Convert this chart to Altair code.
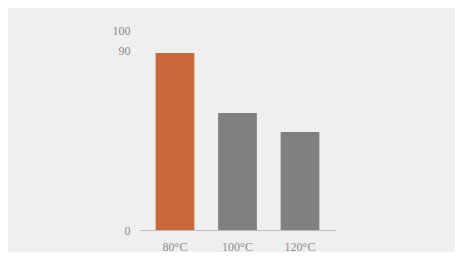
import altair as alt
import pandas as pd

categories = ["80°C", "100°C", "120°C"]
values = [88.5, 58.5, 49]
colors = ["#c9693a", "#808080", "#808080"]
y_ticks = [0, 90, 100]

df = pd.DataFrame({"cat": categories, "val": values, "color": colors})

chart = alt.Chart(df).mark_bar().encode(
    x=alt.X("cat:N", sort=categories, title=None,
            scale=alt.Scale(paddingInner=0.38, paddingOuter=0.25),
            axis=alt.Axis(labelAngle=0, ticks=False, domainColor="#bbbbbb",
                          labelColor="#8c8c8c", labelFontSize=12, labelPadding=11,
                          labelFont="Liberation Serif")),
    y=alt.Y("val:Q", title=None, scale=alt.Scale(domain=[0, 100], nice=False),
            axis=alt.Axis(values=y_ticks, grid=False, domain=False, ticks=False,
                          labelColor="#8c8c8c", labelFontSize=12, labelPadding=10,
                          labelFont="Liberation Serif")),
    color=alt.Color("color:N", scale=None),
).properties(
    width=195, height=200,
    autosize=alt.AutoSizeParams(type="none"),
    padding={"left": 132, "right": 120, "top": 22, "bottom": 22},
    background="#efefef",
).configure_view(stroke=None)

chart.save("out.html", embed_options={"renderer": "svg", "actions": False})
